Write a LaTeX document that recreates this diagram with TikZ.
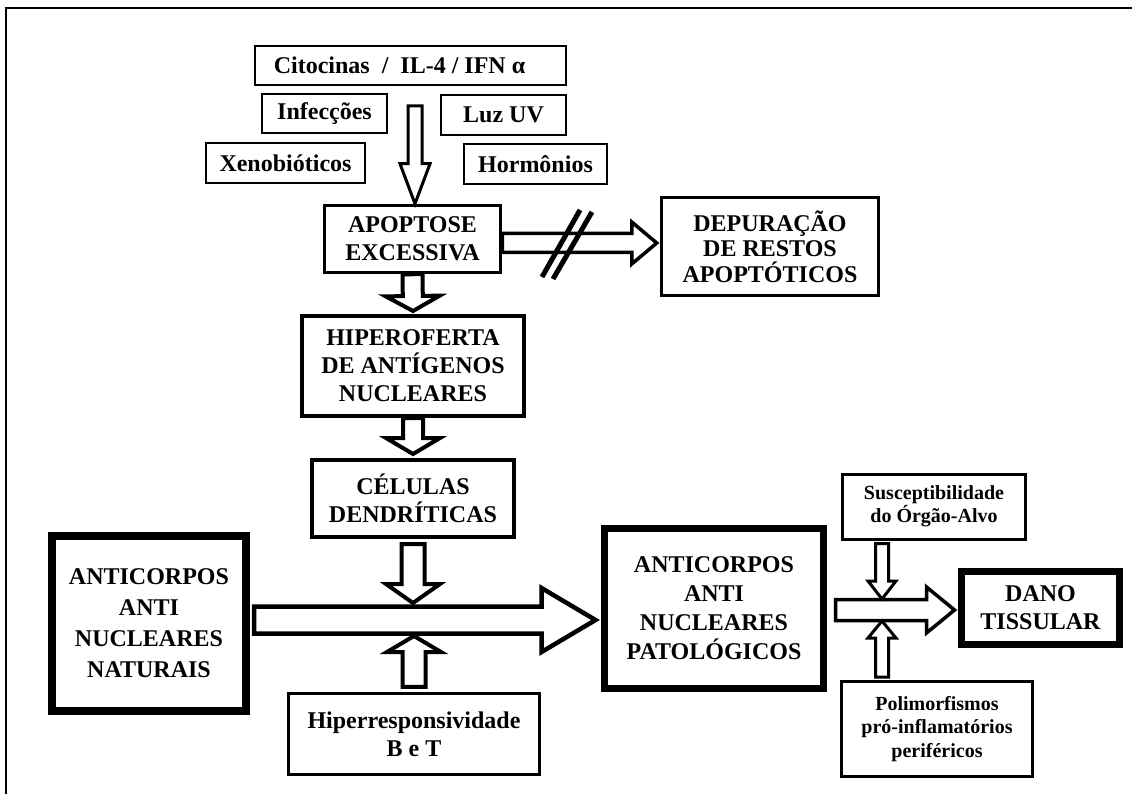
\documentclass[tikz,border=0pt]{standalone}
\usepackage{fontspec}
\setmainfont{Liberation Serif}
\usetikzlibrary{calc}
\newcommand\hollowarrow[6][]{%
  \coordinate (hb) at ($#3!#6!#2$);
  \draw[blockarrow,#1] ($#2!#4!90:#3$) -- ($(hb)!#4!90:#3$) -- ($(hb)!#5!90:#3$) -- #3
     -- ($(hb)!#5!-90:#3$) -- ($(hb)!#4!-90:#3$) -- ($#2!#4!-90:#3$) -- cycle;}
\begin{document}
\begin{tikzpicture}[x=1pt,y=-1pt,
  bx/.style={draw, inner sep=0pt, align=center, fill=white,
     font=\bfseries\fontsize{24}{28}\selectfont},
  smallbx/.style={bx, font=\bfseries\fontsize{20}{23.5}\selectfont},
  blockarrow/.style={draw, fill=white, line width=3.5pt, line join=miter}]
\useasboundingbox (0,0) rectangle (1132,794);
\draw[line width=2.5pt] (6,794) -- (6,8) -- (1132,8);

% nodes
\node[bx, line width=2pt, minimum width=311pt, minimum height=39pt] (cito) at (410.5,65.5) {Citocinas~ /~ IL-4 / IFN α\hspace{22pt}};
\node[bx, line width=2pt, minimum width=125pt, minimum height=39pt] (inf) at (324.5,113.5) {Infecções};
\node[bx, line width=2pt, minimum width=125pt, minimum height=40pt] (luz) at (503.5,115) {Luz UV};
\node[bx, line width=2pt, minimum width=159pt, minimum height=40pt] (xen) at (285.5,163) {Xenobióticos};
\node[bx, line width=2pt, minimum width=143pt, minimum height=40pt] (hor) at (535.5,164) {Hormônios};
\node[bx, line width=3.5pt, minimum width=176pt, minimum height=67pt] (apo) at (412.5,239) {APOPTOSE\\EXCESSIVA};
\node[bx, line width=3.5pt, minimum width=217pt, minimum height=98pt, font=\bfseries\fontsize{24}{25.5}\selectfont] (dep) at (770,246.5) {DEPURAÇÃO\\DE RESTOS\\APOPTÓTICOS};
\node[bx, line width=4pt, minimum width=222pt, minimum height=100pt] (hip) at (413,366) {HIPEROFERTA\\DE ANTÍGENOS\\NUCLEARES};
\node[bx, line width=4pt, minimum width=202pt, minimum height=77pt] (cel) at (413,498.5) {CÉLULAS\\DENDRÍTICAS};
\node[bx, line width=8pt, minimum width=194pt, minimum height=175pt, font=\bfseries\fontsize{24}{31}\selectfont] (nat) at (149,623.5) {ANTICORPOS\\ANTI\\NUCLEARES\\NATURAIS};
\node[bx, line width=3.5pt, minimum width=251pt, minimum height=81pt] (hipr) at (414,734) {Hiperresponsividade\\B e T};
\node[bx, line width=7pt, minimum width=219pt, minimum height=160pt, font=\bfseries\fontsize{24}{29}\selectfont] (pat) at (714,608.5) {ANTICORPOS\\ANTI\\NUCLEARES\\PATOLÓGICOS};
\node[smallbx, line width=3pt, minimum width=183pt, minimum height=65pt] (susc) at (934,506.5) {Susceptibilidade\\do Órgão-Alvo};
\node[bx, line width=7pt, minimum width=158pt, minimum height=73pt] (dano) at (1040.5,608) {DANO\\TISSULAR};
\node[smallbx, line width=3pt, minimum width=191pt, minimum height=95pt] (pol) at (937,729) {Polimorfismos\\pró-inflamatórios\\periféricos};

% connector end points
\coordinate (a0) at (415,106);
\coordinate (a1) at (a0 |- apo.north);
\coordinate (b1) at ($(hip.north)+(0,-3)$);
\coordinate (c1) at ($(cel.north)+(0,-4)$);
\coordinate (e0) at ($(cel.south)+(0,5)$);
\coordinate (e1) at (cel.south |- 0,603);
\coordinate (f0) at ($(hipr.north)+(0,-5)$);
\coordinate (f1) at (hipr.north |- 0,636);
\coordinate (d0) at (apo.east |- 0,243);
\coordinate (d1t) at (dep.west |- 0,243);
\coordinate (d1) at ($(d1t)+(-3,0)$);
\coordinate (m0t) at (nat.east |- 0,620);
\coordinate (m0) at ($(m0t)+(4,0)$);
\coordinate (m1t) at (pat.west |- 0,620);
\coordinate (m1) at ($(m1t)+(-5.5,0)$);
\coordinate (p0t) at (pat.east |- 0,610);
\coordinate (p0) at ($(p0t)+(8.5,0)$);
\coordinate (p1t) at (dano.west |- 0,610);
\coordinate (p1) at ($(p1t)+(-3.5,0)$);
\coordinate (s0t) at (susc.south -| 882,0);
\coordinate (s0) at ($(s0t)+(0,3)$);
\coordinate (s1) at (s0 |- 0,599);
\coordinate (q0t) at (pol.north -| 882,0);
\coordinate (q0) at ($(q0t)+(0,-3)$);
\coordinate (q1) at (q0 |- 0,621);

% block arrows
\hollowarrow[line width=3pt]{(a0)}{(a1)}{7pt}{15pt}{40pt}
\hollowarrow[line width=4pt]{(apo.south)}{(b1)}{10pt}{27pt}{15pt}
\hollowarrow[line width=4pt]{(hip.south)}{(c1)}{10pt}{27pt}{16pt}
\hollowarrow[line width=4pt]{(e0)}{(e1)}{11.5pt}{27pt}{19pt}
\hollowarrow[line width=4pt]{(f0)}{(f1)}{11.5pt}{27pt}{16pt}
\hollowarrow[line width=3.5pt]{(d0)}{(d1)}{9.5pt}{21pt}{25pt}
\hollowarrow[line width=4.5pt]{(m0)}{(m1)}{13.5pt}{32pt}{54pt}
\hollowarrow[line width=3.5pt]{(p0)}{(p1)}{10.5pt}{23pt}{28pt}
\hollowarrow[line width=3pt]{(s0)}{(s1)}{6.5pt}{14pt}{18pt}
\hollowarrow[line width=3pt]{(q0)}{(q1)}{6.5pt}{14pt}{17pt}

% blocked marks
\draw[line width=5pt] (542,277) -- (580,210);
\draw[line width=5pt] (553,279) -- (592,212);
\end{tikzpicture}
\end{document}
